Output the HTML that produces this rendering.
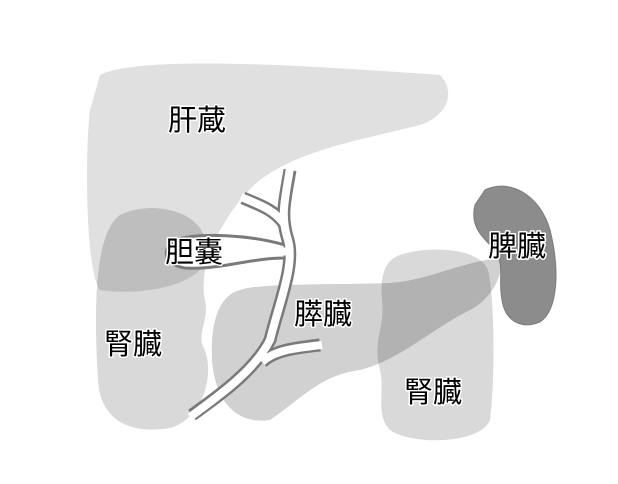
<!DOCTYPE html>
<html><head><meta charset="utf-8"><style>
html,body{margin:0;padding:0;background:#fff}
svg{display:block}
text{font-family:"Liberation Sans","Noto Sans CJK JP",sans-serif;font-size:29px;fill:#000;stroke:#fff;stroke-width:3;paint-order:stroke;stroke-linejoin:round}
</style></head><body>
<svg width="618" height="484" viewBox="0 0 618 484">
<path d="M100,75 C140,55 300,65 440,75 C455,90 450,115 420,125 C360,140 300,150 260,180 C230,205 215,240 200,270 C180,290 130,295 100,290 C85,270 85,150 90,110 Z" fill="#000" fill-opacity="0.12"/>
<path d="M120,215 C150,200 200,210 205,240 C210,260 200,280 205,300 C210,320 195,335 205,350 C215,380 200,420 170,428 C130,435 100,420 98,380 C95,330 95,290 100,260 C103,240 110,222 120,215 Z" fill="#000" fill-opacity="0.15"/>
<path d="M400,255 C430,245 480,248 488,270 C495,300 495,380 490,420 C480,445 410,445 390,430 C375,415 385,390 380,370 C372,340 385,330 382,300 C380,275 385,260 400,255 Z" fill="#000" fill-opacity="0.15"/>
<path d="M240,290 C260,283 330,285 390,283 C430,280 460,262 500,258 C505,275 490,300 470,310 C430,330 400,360 360,370 C320,375 300,400 270,420 C235,425 215,400 212,360 C210,320 220,295 240,290 Z" fill="#000" fill-opacity="0.18"/>
<path d="M485,190 C510,178 540,195 550,230 C560,270 558,310 540,322 C520,330 505,320 502,300 C498,280 505,265 495,250 C480,235 470,225 475,205 Z" fill="#8c8c8c" stroke="#7a7a7a" stroke-width="1"/>
<g fill="none" stroke="#7a7a7a" stroke-width="13" stroke-linecap="butt">
<path d="M290,170 C285,200 280,215 288,240 C295,265 280,300 270,340 C255,370 220,395 192,415"/>
<path d="M243,198 C260,205 275,210 285,225"/>
<path d="M320,345 C295,348 275,350 262,362"/>
</g>
<path d="M285,245 C250,235 200,232 175,240 C160,250 165,265 185,268 C220,270 250,258 285,258 Z" fill="#fff" stroke="#7a7a7a" stroke-width="3"/>
<g fill="none" stroke="#fff" stroke-width="8">
<path d="M290,168 C285,200 280,215 288,240 C295,265 280,300 270,340 C255,370 220,395 190,417"/>
<path d="M241,197 C260,205 275,210 285,225"/>
<path d="M322,345 C295,348 275,350 262,362"/>
<path d="M270,251.5 L288,251.5"/>
</g>
<text x="168" y="130">肝蔵</text>
<text x="165" y="262">胆嚢</text>
<text x="104" y="354">腎臓</text>
<text x="294" y="324">膵臓</text>
<text x="488" y="256">脾臓</text>
<text x="404" y="402">腎臓</text>
</svg>
</body></html>
